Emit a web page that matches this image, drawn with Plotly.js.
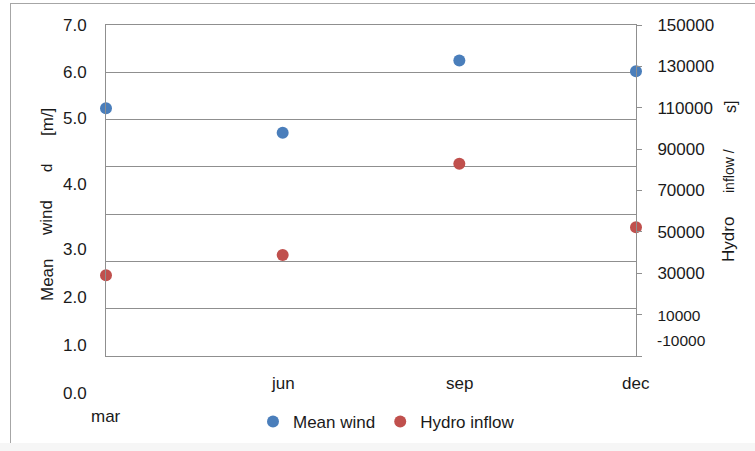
<!DOCTYPE html>
<html><head>
<script src="https://cdn.plot.ly/plotly-3.0.1.min.js"></script>
<style>html,body{margin:0;padding:0;background:#fff}</style>
</head><body>
<div id="chart" style="width:755px;height:451px"></div>
<script>
// ---- data ----
const months = ['mar', 'jun', 'sep', 'dec'];
const meanWind = [5.24, 4.72, 6.25, 6.02];            // m/s (left axis)
const hydroInflow = [29000, 38800, 82900, 52200];     // right axis
const windTickLabels = ['7.0', '6.0', '5.0', '4.0', '3.0', '2.0', '1.0', '0.0'];
const hydroTickVals = [150000, 130000, 110000, 90000, 70000, 50000, 30000, 10000, -10000];
const hydroTickText = ['150000', '130000', '110000', '90000', '70000', '50000', '30000', '10000', '-10000'];

// ---- layout helpers (pixel -> paper) ----
const L = 106, R = 636, T = 25, B = 356;
const px = p => (p - L) / (R - L);
const py = p => (B - p) / (B - T);
const FONT = 'Liberation Sans, Arial, sans-serif';
const TXT = '#1a1a1a';

const windLabelY = [25, 72, 119, 184, 249, 297, 345, 393];
const annotations = [];
windTickLabels.forEach((t, i) => annotations.push({
  text: t, xref: 'paper', yref: 'paper', x: px(89), y: py(windLabelY[i]),
  xanchor: 'right', yanchor: 'middle', showarrow: false,
  font: {family: FONT, size: 17, color: TXT}
}));
const monthLabelY = [417, 383, 383, 383];
months.forEach((m, i) => annotations.push({
  text: m, xref: 'x', yref: 'paper', x: i, y: py(monthLabelY[i]),
  xanchor: 'center', yanchor: 'middle', showarrow: false,
  font: {family: FONT, size: 17, color: TXT}
}));
// bottom right tick label displaced in the reference
annotations.push({
  text: hydroTickText[hydroTickText.length - 1], xref: 'paper', yref: 'paper',
  x: px(655), y: py(340), xanchor: 'left', yanchor: 'middle', showarrow: false,
  font: {family: FONT, size: 15.5, color: TXT}
});
// axis titles (fragmented as in the reference)
const leftTitle = [['Mean', 280, 17], ['wind', 218, 17], ['d', 168, 15], ['[m/]', 122, 17]];
leftTitle.forEach(([t, y, s]) => annotations.push({
  text: t, xref: 'paper', yref: 'paper', x: px(47), y: py(y), textangle: -90,
  xanchor: 'center', yanchor: 'middle', showarrow: false,
  font: {family: FONT, size: s, color: TXT}
}));
const rightTitle = [['Hydro', 240, 17, 728], ['inflow /', 171, 14, 729], ['s]', 107, 16, 730]];
rightTitle.forEach(([t, y, s, x]) => annotations.push({
  text: t, xref: 'paper', yref: 'paper', x: px(x), y: py(y), textangle: -90,
  xanchor: 'center', yanchor: 'middle', showarrow: false,
  font: {family: FONT, size: s, color: TXT}
}));

const traces = [
  {x: months, y: meanWind, name: 'Mean wind', type: 'scatter', mode: 'markers',
   marker: {color: '#4a7ebb', size: 12}, cliponaxis: false, yaxis: 'y'},
  {x: months, y: hydroInflow, name: 'Hydro inflow', type: 'scatter', mode: 'markers',
   marker: {color: '#c0504d', size: 12}, cliponaxis: false, yaxis: 'y2'}
];

const grid = '#8f8f8f';
const layout = {
  width: 755, height: 451,
  margin: {l: L, r: 755 - R, t: T, b: 451 - B, autoexpand: false},
  paper_bgcolor: '#ffffff', plot_bgcolor: '#ffffff',
  showlegend: true,
  legend: {orientation: 'h', x: px(253), y: py(404), xanchor: 'left', yanchor: 'top',
           font: {family: FONT, size: 17, color: TXT}, itemwidth: 30,
           bgcolor: 'rgba(0,0,0,0)'},
  xaxis: {type: 'category', range: [0, 3], showticklabels: false, ticks: '',
          showgrid: false, zeroline: false, showline: true, mirror: true,
          linecolor: grid, linewidth: 1, fixedrange: true},
  yaxis: {range: [0, 7], dtick: 1, tick0: 0, showticklabels: false, ticks: '',
          showgrid: true, gridcolor: grid, gridwidth: 1, zeroline: false,
          showline: true, linecolor: grid, linewidth: 1},
  yaxis2: {overlaying: 'y', side: 'right', range: [-10000, 150000],
           tickmode: 'array', tickvals: hydroTickVals,
           ticktext: hydroTickText.map((t, i) =>
             i === hydroTickText.length - 1 ? '' :
             (t === '10000' ? '<span style="font-size:15.5px">' + t + '</span>' : t)),
           ticks: 'outside', ticklen: 5, tickcolor: grid, ticklabelstandoff: 12,
           showgrid: false, zeroline: false, showline: true, linecolor: grid,
           tickfont: {family: FONT, size: 17, color: TXT}},
  annotations: annotations,
  shapes: [
    {type: 'rect', xref: 'paper', yref: 'paper', x0: px(0), x1: px(755), y0: py(443), y1: py(451),
     fillcolor: '#f6f6f6', line: {width: 0}, layer: 'below'},
    {type: 'line', xref: 'paper', yref: 'paper', x0: px(10), x1: px(755), y0: py(3.5), y1: py(3.5),
     line: {color: '#a6a6a6', width: 1}},
    {type: 'line', xref: 'paper', yref: 'paper', x0: px(10.5), x1: px(10.5), y0: py(3), y1: py(443),
     line: {color: '#a6a6a6', width: 1}}
  ]
};

Plotly.newPlot('chart', traces, layout, {displayModeBar: false, staticPlot: true});
</script>
</body></html>
